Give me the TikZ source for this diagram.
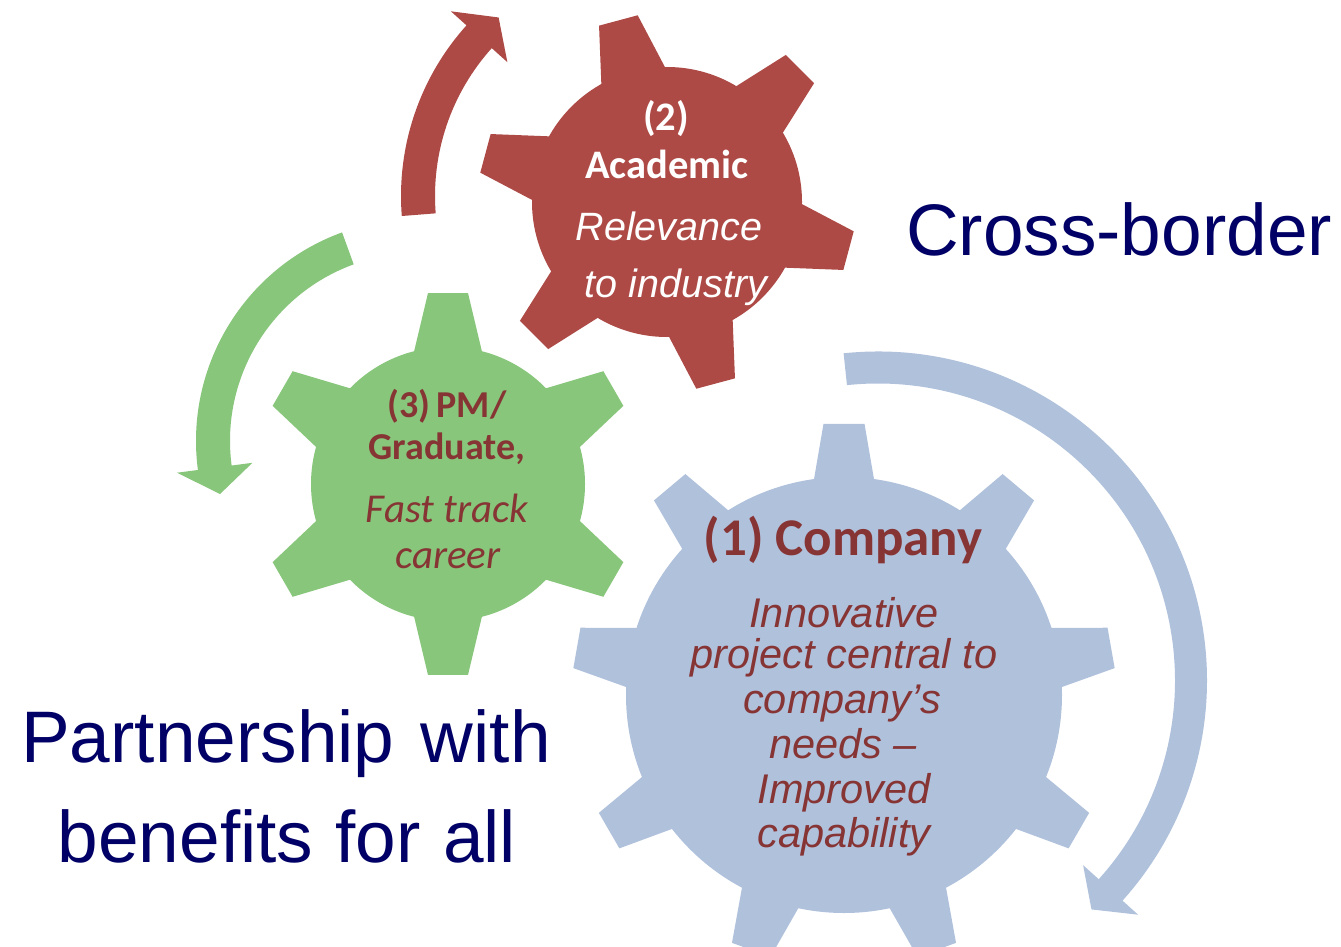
\documentclass[tikz,border=0pt]{standalone}
\usepackage{fontspec}
\setmainfont{Liberation Sans}
\newfontfamily\calfont{Carlito}
\definecolor{gearred}{RGB}{174,74,70}
\definecolor{geargreen}{RGB}{136,198,123}
\definecolor{gearblue}{RGB}{176,193,220}
\definecolor{txtred}{RGB}{134,52,52}
\definecolor{navytxt}{RGB}{0,0,102}

% #1 cx, #2 cy, #3 teeth, #4 phase, #5 root r, #6 outer r, #7 half-width base, #8 half-width tip, #9 colour
\newcommand{\mygear}[9]{%
  \begin{scope}[shift={(#1,#2)}]
    \fill[#9] (0,0) circle[radius=#5];
    \pgfmathsetmacro{\gstep}{360/#3}
    \pgfmathsetmacro{\grb}{#5-10}
    \pgfmathsetmacro{\ghwb}{#7+(#7-#8)*10/(#6-#5)}
    \pgfmathsetmacro{\gdb}{asin(\ghwb/\grb)}
    \pgfmathsetmacro{\gdt}{asin(#8/#6)}
    \foreach \k in {1,...,#3}{
      \pgfmathsetmacro{\ga}{#4+(\k-1)*\gstep}
      \pgfmathsetmacro{\gaa}{\ga-\gdb}
      \pgfmathsetmacro{\gab}{\ga-\gdt}
      \pgfmathsetmacro{\gac}{\ga+\gdt}
      \pgfmathsetmacro{\gad}{\ga+\gdb}
      \fill[#9] (\gaa:\grb) -- (\gab:#6) -- (\gac:#6) -- (\gad:\grb) -- cycle;
    }
  \end{scope}}

% #1 cx, #2 cy, #3 inner r, #4 outer r, #5 start angle, #6 neck angle, #7 tip angle, #8 colour
\newcommand{\myarrow}[8]{%
  \begin{scope}[shift={(#1,#2)}]
    \pgfmathsetmacro{\aro}{#4+21}
    \pgfmathsetmacro{\ari}{#3-21}
    \pgfmathsetmacro{\arm}{(#3+#4)/2}
    \fill[#8] (#5:#4) arc[start angle=#5, end angle=#6, radius=#4]
      -- (#6:\aro) -- (#7:\arm) -- (#6:\ari) -- (#6:#3)
      arc[start angle=#6, end angle=#5, radius=#3] -- cycle;
  \end{scope}}

\tikzset{lbl/.style={inner sep=0pt, anchor=base}}

\begin{document}
\begin{tikzpicture}[x=1pt,y=-1pt]
\useasboundingbox (0,0) rectangle (1341,947);
\fill[white] (0,0) rectangle (1341,947);

% gears
\mygear{667}{202}{6}{15}{135}{189}{33}{20}{gearred}
\mygear{448}{484}{6}{30}{137}{192}{34}{20}{geargreen}
\mygear{844}{695}{9}{30}{218}{272}{30}{20.5}{gearblue}

% arrows
\myarrow{656}{196}{221}{255}{175.5}{222}{228.6}{gearred}
\myarrow{418}{441}{188}{222}{250}{172.5}{165}{geargreen}
\myarrow{878}{680.5}{297}{329}{264}{402}{407}{gearblue}

% red gear text
\node[lbl, text=white, font=\calfont\bfseries\fontsize{40.5}{46}\selectfont] (t2a) at (666,131) {(2)};
\node[lbl, text=white, font=\calfont\bfseries\fontsize{40.5}{46}\selectfont] (t2b) at (667,178) {Academic};
\node[lbl, text=white, font=\itshape\fontsize{39.5}{46}\selectfont] (t2c) at (669,240) {Relevance};
\node[lbl, text=white, font=\itshape\fontsize{39.5}{46}\selectfont] (t2d) at (676,297) {to industry};

% green gear text
\node[lbl, text=txtred, font=\calfont\bfseries\fontsize{38}{44}\selectfont] (t3a) at (447,417) {(3)\,PM/};
\node[lbl, text=txtred, font=\calfont\bfseries\fontsize{38}{44}\selectfont] (t3b) at (447,459) {Graduate,};
\node[lbl, text=txtred, font=\calfont\itshape\fontsize{41}{46}\selectfont] (t3c) at (447,522) {Fast track};
\node[lbl, text=txtred, font=\calfont\itshape\fontsize{41}{46}\selectfont] (t3d) at (448,568) {career};

% blue gear text
\node[lbl, text=txtred, font=\calfont\bfseries\fontsize{53}{60}\selectfont] (t1a) at (843,555) {(1) Company};
\node[lbl, text=txtred, font=\itshape\fontsize{41.5}{44}\selectfont] (t1b) at (844,627) {Innovative};
\node[lbl, text=txtred, font=\itshape\fontsize{41.5}{44}\selectfont] (t1c) at (844,668) {project central to};
\node[lbl, text=txtred, font=\itshape\fontsize{41.5}{44}\selectfont] (t1d) at (842,713) {company’s};
\node[lbl, text=txtred, font=\itshape\fontsize{41.5}{44}\selectfont] (t1e) at (843,758) {needs –};
\node[lbl, text=txtred, font=\itshape\fontsize{41.5}{44}\selectfont] (t1f) at (844,803) {Improved};
\node[lbl, text=txtred, font=\itshape\fontsize{41.5}{44}\selectfont] (t1g) at (844,847) {capability};

% big captions
\node[lbl, text=navytxt, font=\fontsize{73}{84}\selectfont] (cb) at (1119,255) {Cross-border};
\node[lbl, text=navytxt, font=\fontsize{73}{84}\selectfont] (pw1) at (286,762) {Partnership\hspace{6pt} with};
\node[lbl, text=navytxt, font=\fontsize{73}{84}\selectfont] (pw2) at (287,862) {benefits\hspace{2pt} for\hspace{2pt} all};
\end{tikzpicture}
\end{document}
